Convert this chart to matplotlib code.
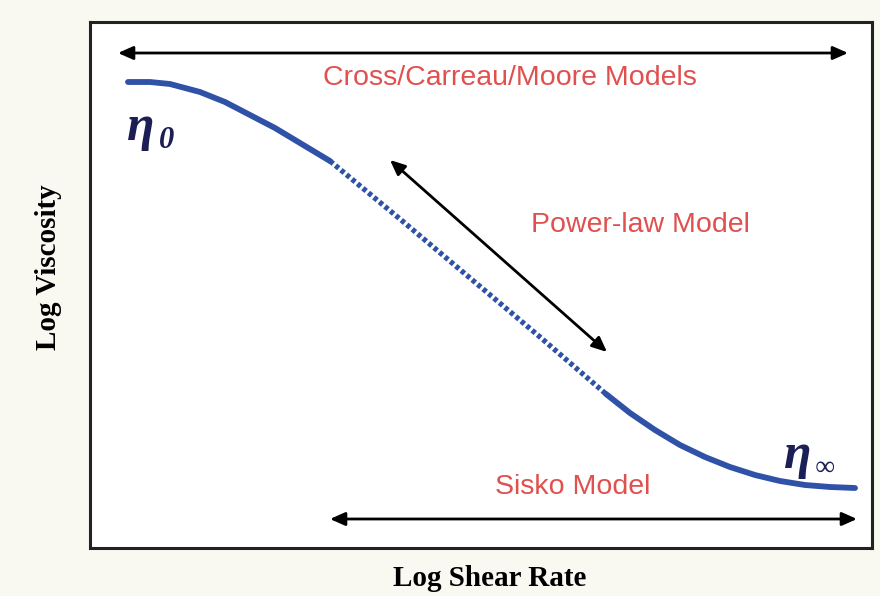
import matplotlib
matplotlib.use("Agg")
import matplotlib.pyplot as plt

# ---- data (axes units = pixels inside the frame) ----
solid_left_x = [38, 60, 80, 110, 135, 160, 185, 210, 240]
solid_left_y = [466, 466, 464, 456, 446, 433, 420, 405, 387]
dotted_x = [240, 310, 380, 450, 516]
dotted_y = [387, 329, 270, 211, 154]
solid_right_x = [516, 540, 565, 590, 615, 640, 665, 690, 715, 740, 765]
solid_right_y = [154, 135, 118, 103, 91, 81, 73, 67, 63, 61, 60]

arrow_top = [(28, 495), (758, 495)]
arrow_bottom = [(240, 29), (767, 29)]
arrow_diag = [(300, 388), (517, 196)]

labels = ["Cross/Carreau/Moore Models", "Power-law Model", "Sisko Model"]
label_pos = [(420, 470), (550, 323), (483, 61)]

eta_main = ["\u03b7", "\u03b7"]
eta_sub = ["0", "\u221e"]
eta_pos = [(37, 420), (694, 92)]
eta_sub_dx = [32, 31]
eta_sub_size = [22, 20]

x_label = "Log Shear Rate"
y_label = "Log Viscosity"

blue = "#2f52a8"
red = "#e0504f"
navy = "#1b1f55"

fig = plt.figure(figsize=(8.8, 5.96), dpi=100, facecolor="#f9f9f1")
ax = fig.add_axes([90 / 880, 48 / 596, 782 / 880, 526 / 596])
ax.set_xlim(0, 782)
ax.set_ylim(0, 526)
ax.set_facecolor("white")
for s in ax.spines.values():
    s.set_linewidth(2.2)
    s.set_color("#222222")
ax.set_xticks([])
ax.set_yticks([])

ax.plot(solid_left_x, solid_left_y, color=blue, lw=4.2, solid_capstyle="round",
        solid_joinstyle="round")
ax.plot(dotted_x, dotted_y, color=blue, lw=3.8, linestyle=(0, (0.8, 0.55)))
ax.plot(solid_right_x, solid_right_y, color=blue, lw=4.2, solid_capstyle="round",
        solid_joinstyle="round")

for (a, b) in [arrow_top, arrow_bottom, arrow_diag]:
    ax.annotate("", xy=b, xytext=a,
                arrowprops=dict(arrowstyle="<|-|>,head_length=0.9,head_width=0.4",
                                color="black", lw=2.0, shrinkA=0, shrinkB=0))

for t, (x, y) in zip(labels, label_pos):
    ax.text(x, y, t, color=red, fontsize=20.5, ha="center", va="center",
            family="Liberation Sans")

for m, s, (x, y), dx, fs in zip(eta_main, eta_sub, eta_pos, eta_sub_dx, eta_sub_size):
    ax.text(x, y, m, color=navy, fontsize=36, ha="left", va="center",
            family="Liberation Serif", fontweight="bold", fontstyle="italic")
    ax.text(x + dx, y - 12, s, color=navy, fontsize=fs, ha="left", va="center",
            family="Liberation Serif", fontweight="bold", fontstyle="italic")

fig.text(490 / 880, 1 - 578 / 596, x_label, ha="center", va="center",
         fontsize=21, fontweight="bold", family="Liberation Serif")
fig.text(48 / 880, 1 - 267 / 596, y_label, ha="center", va="center",
         rotation=90, fontsize=21, fontweight="bold", family="Liberation Serif")

fig.savefig("out.png", dpi=100, facecolor=fig.get_facecolor())
